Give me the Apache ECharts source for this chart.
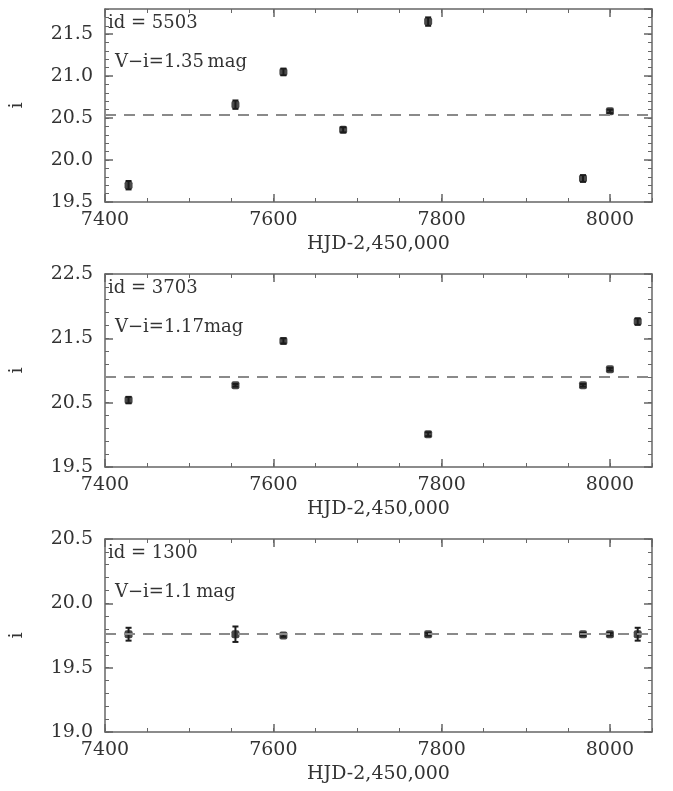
<!DOCTYPE html>
<html>
<head>
<meta charset="utf-8">
<script src="https://cdn.jsdelivr.net/npm/echarts@6/dist/echarts.min.js"></script>
<style>
  html, body { margin: 0; padding: 0; background: #ffffff; }
  #chart { width: 673px; height: 791px; }
</style>
</head>
<body>
<div id="chart"></div>
<script>
// 三颗星的 i 波段光变数据 (HJD-2,450,000)
const hjd5503 = [7428, 7555, 7612, 7683, 7784, 7968, 8000]
const mag5503 = [19.70, 20.66, 21.05, 20.36, 21.65, 19.78, 20.58]
const err5503 = [0.05, 0.05, 0.04, 0.03, 0.05, 0.04, 0.02]
const mean5503 = 20.54

const hjd3703 = [7428, 7555, 7612, 7784, 7968, 8000, 8033]
const mag3703 = [20.54, 20.77, 21.46, 20.01, 20.77, 21.02, 21.76]
const err3703 = [0.05, 0.02, 0.04, 0.03, 0.02, 0.02, 0.05]
const mean3703 = 20.91

const hjd1300 = [7428, 7555, 7612, 7784, 7968, 8000, 8033]
const mag1300 = [19.76, 19.76, 19.75, 19.76, 19.76, 19.76, 19.76]
const err1300 = [0.05, 0.06, 0.01, 0.01, 0.01, 0.01, 0.05]
const mean1300 = 19.76

// 面板标注
const idLabels = ['id = 5503', 'id = 3703', 'id = 1300']
const colorLabels = ['V\u2212i=1.35\u2009mag', 'V\u2212i=1.17mag', 'V\u2212i=1.1\u2009mag']

// 坐标轴范围
const xRange = [7400, 8050]
const xMajor = 200
const xMinor = 50
const yRanges = [[19.5, 21.8], [19.5, 22.5], [19.0, 20.5]]
const yMajors = [0.5, 1.0, 0.5]
const yMinors = [0.1, 0.2, 0.1]

const FONT = '"DejaVu Serif", serif'
const textColor = '#333333'
const axisColor = '#666666'
const pointColor = '#1c1c1c'

const panels = [
  { x: hjd5503, y: mag5503, e: err5503, mean: mean5503 },
  { x: hjd3703, y: mag3703, e: err3703, mean: mean3703 },
  { x: hjd1300, y: mag1300, e: err1300, mean: mean1300 }
]

const gridTops = [9, 274, 539]
const gridLeft = 95
const gridWidth = 557
const gridHeight = 193

/**
 * 一个方向上的主/次刻度轴 (底+顶 或 左+右)
 */
function makeAxes (dim, gi) {
  const isX = dim === 'x'
  const range = isX ? xRange : yRanges[gi]
  const major = isX ? xMajor : yMajors[gi]
  const minor = isX ? xMinor : yMinors[gi]
  const sides = isX ? ['bottom', 'top'] : ['left', 'right']
  // 最大值不在主刻度上时不显示其标签
  const steps = (range[1] - range[0]) / major
  const maxOnTick = Math.abs(steps - Math.round(steps)) < 1e-6
  let axes = []
  sides.forEach((side, si) => {
    // 主刻度
    let a = {
      type: 'value',
      gridIndex: gi,
      position: side,
      min: range[0],
      max: range[1],
      interval: major,
      axisLine: { show: true, onZero: false, lineStyle: { color: axisColor, width: 1.5 } },
      axisTick: { show: true, inside: true, length: 8, lineStyle: { color: axisColor, width: 1.5 } },
      axisLabel: {
        show: si === 0,
        showMaxLabel: maxOnTick,
        showMinLabel: true,
        fontFamily: FONT,
        fontSize: 19,
        color: textColor,
        margin: isX ? 9 : 12,
        formatter: (v) => isX ? String(Math.round(v)) : v.toFixed(1)
      },
      splitLine: { show: false }
    }
    if (si === 0) {
      a.name = isX ? 'HJD-2,450,000' : 'i'
      a.nameLocation = 'middle'
      a.nameGap = isX ? 33 : 78
      a.nameTextStyle = { fontFamily: FONT, fontSize: 19, color: textColor }
    }
    axes.push(a)
    // 次刻度
    axes.push({
      type: 'value',
      gridIndex: gi,
      position: side,
      min: range[0],
      max: range[1],
      interval: minor,
      axisLine: { show: false, onZero: false },
      axisTick: { show: true, inside: true, length: 4, lineStyle: { color: axisColor, width: 1 } },
      axisLabel: { show: false },
      splitLine: { show: false }
    })
  })
  return axes
}

let grids = []
let xAxes = []
let yAxes = []
let series = []
let graphics = []

panels.forEach((p, gi) => {
  grids.push({ left: gridLeft, top: gridTops[gi], width: gridWidth, height: gridHeight })
  xAxes = xAxes.concat(makeAxes('x', gi))
  yAxes = yAxes.concat(makeAxes('y', gi))

  const pts = p.x.map((v, k) => [v, p.y[k]])
  const bars = p.x.map((v, k) => [v, p.y[k], p.e[k]])

  // 数据点 + 平均星等虚线
  series.push({
    type: 'scatter',
    xAxisIndex: gi * 4,
    yAxisIndex: gi * 4,
    data: pts,
    symbol: 'roundRect',
    symbolSize: [8, 8],
    itemStyle: { color: pointColor },
    z: 4,
    markLine: {
      silent: true,
      symbol: 'none',
      label: { show: false },
      lineStyle: { type: [11, 8], color: '#8a8a8a', width: 2 },
      data: [{ yAxis: p.mean }]
    }
  })

  // 误差棒
  series.push({
    type: 'custom',
    xAxisIndex: gi * 4,
    yAxisIndex: gi * 4,
    data: bars,
    encode: { x: 0, y: 1 },
    z: 3,
    renderItem: function (params, api) {
      const x = api.value(0)
      const y = api.value(1)
      const e = api.value(2)
      const lo = api.coord([x, y - e])
      const hi = api.coord([x, y + e])
      const w = 3
      const st = { stroke: pointColor, lineWidth: 2 }
      return {
        type: 'group',
        children: [
          { type: 'line', shape: { x1: lo[0], y1: lo[1], x2: hi[0], y2: hi[1] }, style: st },
          { type: 'line', shape: { x1: lo[0] - w, y1: lo[1], x2: lo[0] + w, y2: lo[1] }, style: st },
          { type: 'line', shape: { x1: hi[0] - w, y1: hi[1], x2: hi[0] + w, y2: hi[1] }, style: st }
        ]
      }
    }
  })

  graphics.push({
    type: 'text',
    x: 108,
    y: gridTops[gi] + 14,
    style: { text: idLabels[gi], font: '18px ' + FONT, fill: textColor, verticalAlign: 'middle' }
  })
  graphics.push({
    type: 'text',
    x: 115,
    y: gridTops[gi] + 53,
    style: { text: colorLabels[gi], font: '18px ' + FONT, fill: textColor, verticalAlign: 'middle' }
  })
})

const chart = echarts.init(document.getElementById('chart'), null, { renderer: 'canvas' })
chart.setOption({
  backgroundColor: '#ffffff',
  animation: false,
  grid: grids,
  xAxis: xAxes,
  yAxis: yAxes,
  series: series,
  graphic: graphics
})
</script>
</body>
</html>
